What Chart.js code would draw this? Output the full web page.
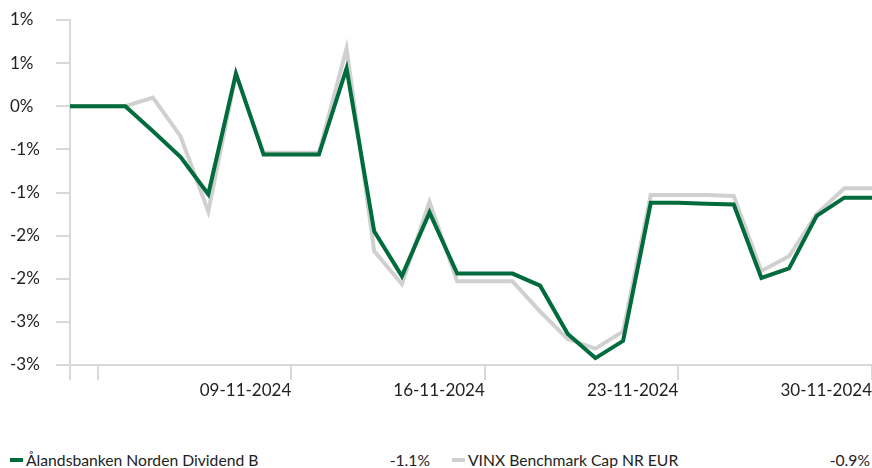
<!DOCTYPE html>
<html>
<head>
<meta charset="utf-8">
<script src="https://cdn.jsdelivr.net/npm/chart.js@4"></script>
<style>
    body { margin: 0; background: #fff; font-family: Lato, sans-serif; color: #222; }
    #wrap { position: relative; width: 872px; height: 410px; }
    #legend { position: absolute; left: 0; top: 451px; width: 872px; height: 24px; font-size: 15.7px; }
    .item { position: absolute; top: 0; display: flex; align-items: center; }
    .swatch { width: 13px; height: 4px; margin-right: 3px; }
    .val { position: absolute; top: 0; text-align: right; }
</style>
</head>
<body>
<div id="wrap"><canvas id="perfChart"></canvas></div>
<div id="legend">
    <div class="item" style="left:10px"><span class="swatch" style="background:#006b3c"></span><span>Ålandsbanken Norden Dividend B</span></div>
    <div class="val" style="right:442px">-1.1%</div>
    <div class="item" style="left:452px"><span class="swatch" style="background:#d0d0d0"></span><span>VINX Benchmark Cap NR EUR</span></div>
    <div class="val" style="right:2px">-0.9%</div>
</div>
<script>
// Daily dates, November 2024
const dates = [
    '01-11-2024', '02-11-2024', '03-11-2024', '04-11-2024', '05-11-2024', '06-11-2024',
    '07-11-2024', '08-11-2024', '09-11-2024', '10-11-2024', '11-11-2024', '12-11-2024',
    '13-11-2024', '14-11-2024', '15-11-2024', '16-11-2024', '17-11-2024', '18-11-2024',
    '19-11-2024', '20-11-2024', '21-11-2024', '22-11-2024', '23-11-2024', '24-11-2024',
    '25-11-2024', '26-11-2024', '27-11-2024', '28-11-2024', '29-11-2024', '30-11-2024'
];

// Cumulative return, %
const fundValues = [
    0, 0, 0, -0.29, -0.59, -1.02, 0.38, -0.56, -0.56, -0.56,
    0.44, -1.45, -1.97, -1.23, -1.94, -1.94, -1.94, -2.08, -2.64, -2.92,
    -2.72, -1.12, -1.12, -1.13, -1.14, -1.99, -1.88, -1.27, -1.06, -1.06
];
const benchmarkValues = [
    0, 0, 0, 0.10, -0.35, -1.22, 0.37, -0.54, -0.54, -0.54,
    0.67, -1.68, -2.06, -1.11, -2.03, -2.03, -2.03, -2.38, -2.70, -2.81,
    -2.61, -1.03, -1.03, -1.03, -1.04, -1.91, -1.74, -1.25, -0.95, -0.95
];

// Weekly tick marks; only the later ones get a text label
const tickIndexes = [0, 1, 8, 15, 22, 29];
const labelledTicks = ['09-11-2024', '16-11-2024', '23-11-2024', '30-11-2024'];

const gridColor = '#d9d9d9';
const tickFont = { family: 'Lato', size: 17 };

const ctx = document.getElementById('perfChart');

new Chart(ctx, {
    type: 'line',
    data: {
        labels: dates,
        datasets: [
            {
                label: 'Ålandsbanken Norden Dividend B',
                data: fundValues,
                borderColor: '#006b3c',
                borderWidth: 4,
                pointRadius: 0,
                tension: 0,
                order: 1
            },
            {
                label: 'VINX Benchmark Cap NR EUR',
                data: benchmarkValues,
                borderColor: '#d0d0d0',
                borderWidth: 4,
                pointRadius: 0,
                tension: 0,
                order: 2
            }
        ]
    },
    options: {
        responsive: true,
        maintainAspectRatio: false,
        animation: false,
        layout: { padding: { left: 10, top: 20, right: 0, bottom: 0 } },
        plugins: {
            legend: { display: false },
            tooltip: { enabled: false }
        },
        scales: {
            x: {
                grid: {
                    drawOnChartArea: false,
                    drawTicks: true,
                    tickLength: 15,
                    color: gridColor,
                    lineWidth: 2
                },
                border: { display: true, color: gridColor, width: 2 },
                ticks: {
                    autoSkip: false,
                    maxRotation: 0,
                    align: 'end',
                    padding: 0,
                    color: '#222',
                    font: tickFont,
                    callback: function(value, index) {
                        if (!tickIndexes.includes(index)) return null;
                        const label = dates[index];
                        return labelledTicks.includes(label) ? label : '';
                    }
                },
                afterFit: function(axis) { axis.height = 45; }
            },
            y: {
                min: -3,
                max: 1,
                grid: {
                    drawOnChartArea: false,
                    drawTicks: true,
                    tickLength: 14,
                    color: gridColor,
                    lineWidth: 2
                },
                border: { display: true, color: gridColor, width: 2 },
                ticks: {
                    stepSize: 0.5,
                    crossAlign: 'far',
                    color: '#222',
                    font: tickFont,
                    callback: function(value) {
                        // Labels are rounded to whole percent, half away from zero
                        const r = Math.sign(value) * Math.round(Math.abs(value));
                        return (r === 0 ? 0 : r) + '%';
                    }
                },
                afterFit: function(axis) { axis.width = 60; }
            }
        }
    }
});
</script>
</body>
</html>
